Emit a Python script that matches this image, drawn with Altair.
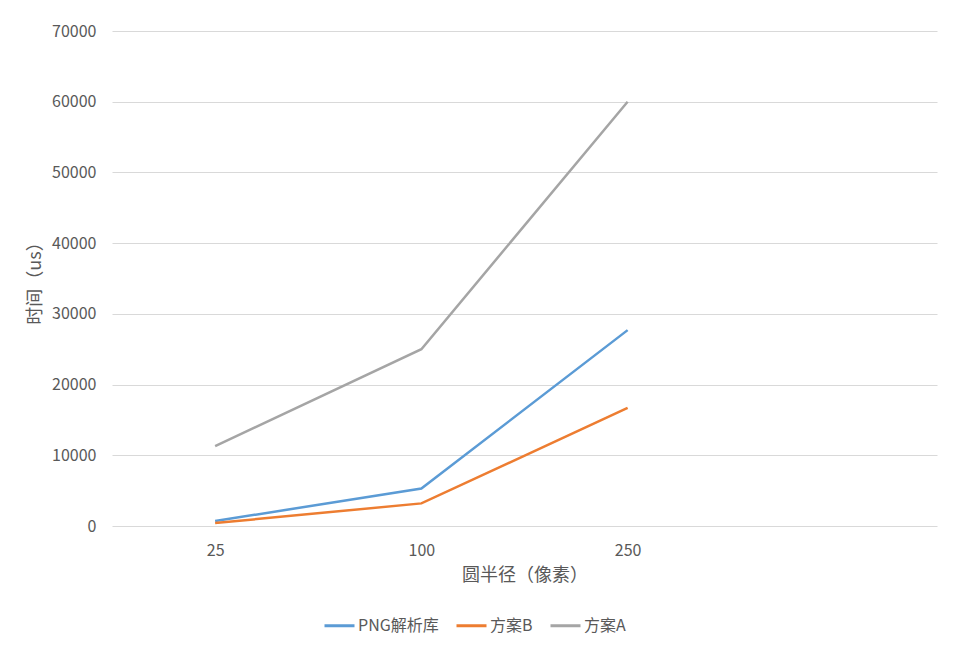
import altair as alt
import pandas as pd

categories = ["25", "100", "250", ""]
series_names = ["PNG解析库", "方案B", "方案A"]
png_values = [700, 5300, 27700]
plan_b_values = [420, 3200, 16700]
plan_a_values = [11300, 25000, 60000]
colors = ["#5B9BD5", "#ED7D31", "#A5A5A5"]
y_ticks = [0, 10000, 20000, 30000, 40000, 50000, 60000, 70000]

rows = []
for name, vals in zip(series_names, [png_values, plan_b_values, plan_a_values]):
    for c, v in zip(categories[:3], vals):
        rows.append({"radius": c, "time": v, "series": name})
df = pd.DataFrame(rows)

FONT = "Noto Sans CJK SC"
TXT = "#595959"

chart = alt.Chart(df).mark_line(strokeWidth=2.5).encode(
    x=alt.X(
        "radius:O",
        scale=alt.Scale(domain=categories),
        axis=alt.Axis(
            title="圆半径（像素）",
            labelAngle=0,
            ticks=False,
            domain=False,
            grid=False,
            labelPadding=16,
            labelFontSize=16,
            labelColor=TXT,
            titleFontSize=18,
            titleFontWeight="normal",
            titleColor=TXT,
            titlePadding=8,
        ),
    ),
    y=alt.Y(
        "time:Q",
        scale=alt.Scale(domain=[0, 70000], nice=False),
        axis=alt.Axis(
            title="时间（us）",
            values=y_ticks,
            format="d",
            ticks=False,
            domain=False,
            gridColor="#D9D9D9",
            gridWidth=1,
            labelPadding=16,
            labelFontSize=16,
            labelColor=TXT,
            titleFontSize=18,
            titleFontWeight="normal",
            titleColor=TXT,
            titlePadding=7,
        ),
    ),
    color=alt.Color(
        "series:N",
        scale=alt.Scale(domain=series_names, range=colors),
        legend=alt.Legend(
            title=None,
            orient="none",
            legendX=211,
            legendY=578,
            direction="horizontal",
            symbolType="stroke",
            symbolSize=900,
            symbolStrokeWidth=3,
            labelFontSize=16,
            labelColor=TXT,
            labelOffset=2,
            columnPadding=11,
        ),
    ),
).properties(
    width=825,
    height=495,
    padding={"left": 104, "top": 23, "right": 20, "bottom": 120},
    autosize=alt.AutoSizeParams(type="none"),
).configure(
    font=FONT,
).configure_view(
    stroke=None,
)

chart.save("out.html", embed_options={"renderer": "svg", "actions": False})
